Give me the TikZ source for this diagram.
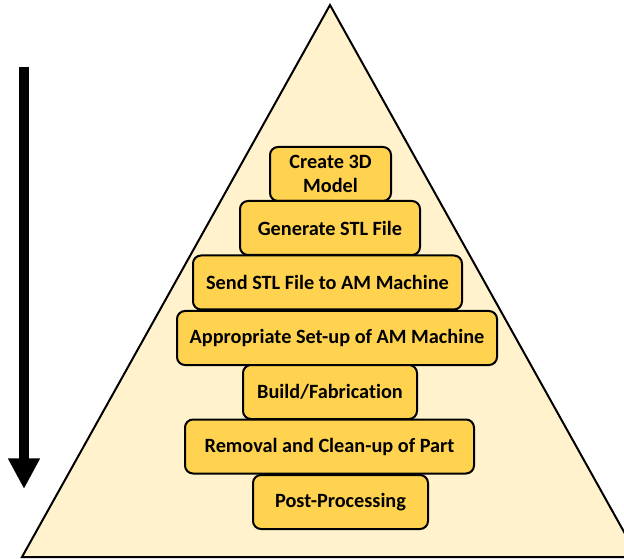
\documentclass[tikz,border=0pt]{standalone}
\usepackage{fontspec}
\setmainfont{Carlito}[Ligatures=NoCommon]
\usepackage{tikz}
\usetikzlibrary{arrows.meta, positioning}
\definecolor{pyrfill}{HTML}{FFF2CC}
\definecolor{stepfill}{HTML}{FFD34F}

\begin{document}
\begin{tikzpicture}[x=0.75pt, y=-0.75pt,
    stage/.style={draw, line width=1.5pt, rounded corners=6pt, fill=stepfill,
        minimum height=40.5pt, inner sep=2pt, align=center,
        font=\fontsize{15.2pt}{18.5pt}\selectfont\bfseries}]
            \useasboundingbox (0,0) rectangle (624,559);
            \clip (0,0) rectangle (624,559);
            \draw[line width=1.5pt, fill=pyrfill, line join=miter] (330,5) -- (22,557) -- (638,557) -- cycle;
            \node[stage, minimum width=90.75pt] (S1) at (330.5,174) {Create 3D\\Model};
            \node[stage, minimum width=135pt] (S2) at (330,228) {Generate STL File};
            \node[stage, minimum width=201.75pt] (S3) at (327.5,282.5) {Send STL File to AM Machine};
            \node[stage, minimum width=240pt] (S4) at (337,338) {Appropriate Set-up of AM Machine};
            \node[stage, minimum width=130.5pt] (S5) at (330,392) {Build/Fabrication};
            \node[stage, minimum width=216.75pt] (S6) at (329.5,446.5) {Removal and Clean-up of Part};
            \node[stage, minimum width=131.25pt] (S7) at (340.5,502) {Post-Processing};
            \coordinate (top) at (24,67);
            \coordinate (tip) at (24,489);
            \draw[line width=7.5pt, -{Triangle[width=22.5pt, length=23pt]}] (top) -- (tip);
        \end{tikzpicture}
\end{document}
